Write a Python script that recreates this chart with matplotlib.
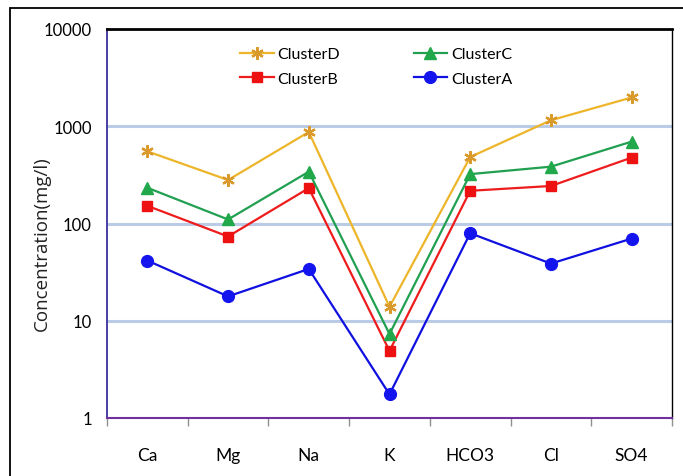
import matplotlib
matplotlib.use("Agg")
import matplotlib.pyplot as plt
from matplotlib.patches import Rectangle
from matplotlib.ticker import FixedLocator, NullFormatter

ions = ["Ca", "Mg", "Na", "K", "HCO3", "Cl", "SO4"]
cluster_d = [552, 280, 873, 13.9, 483, 1153, 1977]
cluster_c = [233, 110, 341, 7.3, 322, 384, 695]
cluster_b = [152, 73.5, 231, 4.9, 217, 243, 476]
cluster_a = [41.6, 17.8, 34.1, 1.75, 79.4, 38.7, 70]

fig = plt.figure(figsize=(6.83, 4.77), dpi=100)
ax = fig.add_axes([107 / 683, 1 - 419 / 477, 565 / 683, 389 / 477])

# outer frame around the whole chart (cut at right and bottom)
fig.patches.append(Rectangle((10 / 683, -0.05), 1.2, 1 - 9 / 477 + 0.05,
                             transform=fig.transFigure, fill=False,
                             edgecolor="black", linewidth=1.3))

x = list(range(len(ions)))
ax.plot(x, cluster_d, color="#edb52a", lw=1.6, marker=(6, 2, 0), ms=9,
        mec="#d99a2b", mew=1.6, label="ClusterD")
ax.plot(x, cluster_b, color="#ee1c1c", lw=1.6, marker="s", ms=7,
        mfc="#ee1111", mec="#ee1111", label="ClusterB")
ax.plot(x, cluster_c, color="#20a050", lw=1.6, marker="^", ms=8,
        mfc="#20a84a", mec="#20a84a", label="ClusterC")
ax.plot(x, cluster_a, color="#1010e0", lw=1.6, marker="o", ms=8.5,
        mfc="#1414ee", mec="#1414ee", label="ClusterA")

ax.set_yscale("log")
ax.set_ylim(1, 10000)
ax.set_xlim(-0.5, 6.5)
ax.yaxis.set_major_locator(FixedLocator([1, 10, 100, 1000, 10000]))
ax.yaxis.set_minor_locator(FixedLocator([]))
ax.set_yticklabels(["1", "10", "100", "1000", "10000"])
for v in [10, 100, 1000]:
    ax.axhline(v, color="#b9cbe6", lw=2.2, zorder=0)

ax.set_xticks(x)
ax.set_xticklabels(ions)
ax.xaxis.set_minor_locator(FixedLocator([i - 0.5 for i in range(8)]))
ax.xaxis.set_minor_formatter(NullFormatter())
ax.tick_params(axis="x", which="major", length=0, pad=21, labelsize=12.5)
ax.tick_params(axis="x", which="minor", length=6, width=1, color="#909090",
               direction="out")
ax.tick_params(axis="y", which="major", length=0, pad=11, labelsize=12)
for lab in ax.get_xticklabels() + ax.get_yticklabels():
    lab.set_family(["Lato", "DejaVu Sans"])

ax.spines["top"].set_linewidth(2.0)
ax.spines["top"].set_color("black")
ax.spines["right"].set_linewidth(1.0)
ax.spines["right"].set_color("black")
ax.spines["left"].set_color("#3c2f9e")
ax.spines["left"].set_linewidth(1.3)
ax.spines["bottom"].set_color("#7030a0")
ax.spines["bottom"].set_linewidth(1.5)

ax.set_ylabel("Concentration(mg/l)", fontsize=13.5, family=["Open Sans", "DejaVu Sans"],
              color="#222222")
ax.yaxis.set_label_coords(-0.10, 0.45)

handles, labels = ax.get_legend_handles_labels()
leg = ax.legend(handles, labels, ncol=2, loc="upper left",
                bbox_to_anchor=(0.21, 0.99), frameon=False,
                prop={"family": ["Lato", "DejaVu Sans"], "size": 11.5},
                handlelength=2.1, columnspacing=4.6, labelspacing=0.65,
                handletextpad=0.25)

fig.savefig("out.png", dpi=100)
